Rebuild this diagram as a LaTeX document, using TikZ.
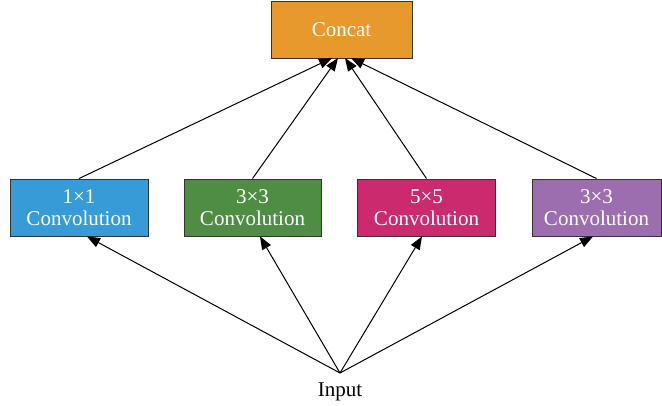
\documentclass[tikz,border=0pt]{standalone}
\usepackage{fontspec}
\setmainfont{Liberation Serif}
\usetikzlibrary{arrows.meta}
\definecolor{corange}{HTML}{E8992E}
\definecolor{cblue}{HTML}{369BD7}
\definecolor{cgreen}{HTML}{4F8D45}
\definecolor{cmag}{HTML}{CB2A6E}
\definecolor{cpurp}{HTML}{9C6DAF}
\tikzset{
  box/.style={draw=black!80, line width=0.9pt, minimum width=#1, minimum height=57pt, inner sep=0pt, text=white, align=center, font=\fontsize{21}{22}\selectfont},
  conn/.style={line width=1pt, -{Triangle[length=13pt,width=10pt]}}
}
\begin{document}
\begin{tikzpicture}[x=1pt,y=-1pt]
\useasboundingbox (0,0) rectangle (662,406);
\node[box=141pt, fill=corange] (concat) at (341.5,29.5) {Concat};
\node[box=138pt, fill=cblue] (b1) at (79,207.5) {1×1\\Convolution};
\node[box=137pt, fill=cgreen] (b2) at (252.5,207.5) {3×3\\Convolution};
\node[box=138pt, fill=cmag] (b3) at (426.5,207.5) {5×5\\Convolution};
\node[box=129pt, fill=cpurp] (b4) at (596.5,207.5) {3×3\\Convolution};
\coordinate (in) at (340,373);
\node[font=\fontsize{21}{22}\selectfont, anchor=north] (input) at (340,379) {Input};
\coordinate (t1) at (332,58);
\coordinate (t2) at (338,58);
\coordinate (t3) at (345,58);
\coordinate (t4) at (351,58);
\draw[conn] (b1.north) -- (t1);
\draw[conn] (b2.north) -- (t2);
\draw[conn] (b3.north) -- (t3);
\draw[conn] (b4.north) -- (t4);
\draw[conn] (in) -- (b1.south -| 87,0);
\draw[conn] (in) -- (b2.south -| 260,0);
\draw[conn] (in) -- (b3.south -| 422,0);
\draw[conn] (in) -- (b4.south -| 593,0);
\end{tikzpicture}
\end{document}
